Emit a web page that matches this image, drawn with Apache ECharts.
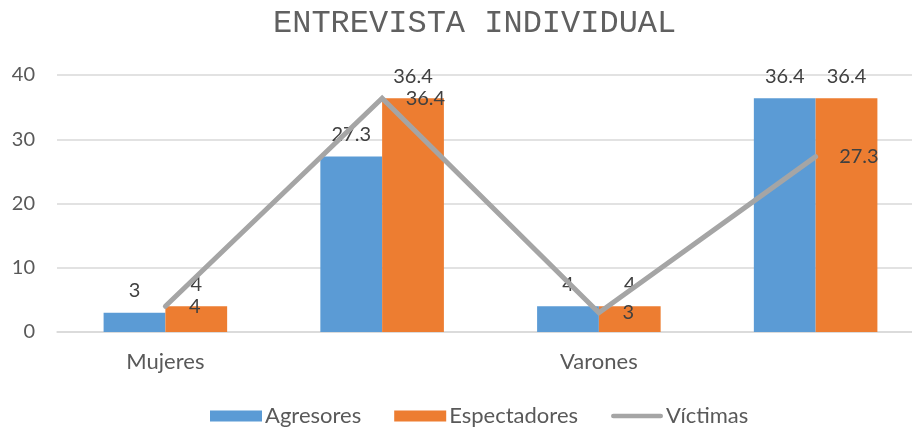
<!DOCTYPE html>
<html><head><meta charset="utf-8">
<script src="https://cdn.jsdelivr.net/npm/echarts@6/dist/echarts.min.js"></script>
<style>html,body{margin:0;padding:0;background:#fff}#c{width:912px;height:430px}</style>
</head><body><div id="c"></div>
<script>
const titleText = 'ENTREVISTA INDIVIDUAL';
const categories = ['Mujeres', '', 'Varones', ''];
const agresores = [3, 27.3, 4, 36.4];
const espectadores = [4, 36.4, 4, 36.4];
const victimas = [4, 36.4, 3, 27.3];
const yTicks = { min: 0, max: 40, interval: 10 };

const FONT = 'Lato';
const chart = echarts.init(document.getElementById('c'), null, { renderer: 'canvas' });
chart.setOption({
  animation: false,
  backgroundColor: '#fff',
  title: {
    text: titleText, left: 268, top: 3,
    textStyle: { fontFamily: 'Liberation Mono', fontSize: 32, fontWeight: 'normal', color: '#606060' }
  },
  legend: {
    left: 205, top: 400, itemWidth: 52, itemHeight: 11, itemGap: 33,
    textStyle: { fontFamily: FONT, fontSize: 22, color: '#595959', padding: [0, 0, 0, -2] },
    data: [
      { name: 'Agresores', icon: 'rect' },
      { name: 'Espectadores', icon: 'rect' },
      { name: 'Víctimas', icon: 'path://M2.5,0 H52.5 A2.5,2.5 0 0 1 52.5,5 H2.5 A2.5,2.5 0 0 1 2.5,0 Z',
        itemStyle: { color: '#a5a5a5', opacity: 1 } }
    ]
  },
  grid: { left: 57, width: 867, top: 75, bottom: 98, containLabel: false, outerBoundsMode: 'none' },
  xAxis: {
    type: 'category', data: categories,
    axisLine: { show: true, lineStyle: { color: '#d9d9d9', width: 1.5 } },
    axisTick: { show: false },
    axisLabel: { fontFamily: FONT, fontSize: 22, color: '#595959', margin: 19, interval: 0 }
  },
  yAxis: {
    type: 'value', min: yTicks.min, max: yTicks.max, interval: yTicks.interval,
    axisLine: { show: false }, axisTick: { show: false },
    splitLine: { lineStyle: { color: '#d9d9d9', width: 1.5 } },
    axisLabel: { fontFamily: FONT, fontSize: 20, color: '#595959', margin: 22 }
  },
  series: [
    {
      name: 'Agresores', type: 'bar', data: agresores, barGap: '0%', barCategoryGap: '43%',
      itemStyle: { color: '#5b9bd5' },
      label: { show: true, position: 'top', distance: 12, fontFamily: FONT, fontSize: 20, color: '#404040' }
    },
    {
      name: 'Espectadores', type: 'bar', data: espectadores, barGap: '0%', barCategoryGap: '43%',
      itemStyle: { color: '#ed7d31' },
      label: { show: true, position: 'top', distance: 12, fontFamily: FONT, fontSize: 20, color: '#404040' }
    },
    {
      name: 'Víctimas', type: 'line', data: victimas,
      symbol: 'circle', symbolSize: 1, showSymbol: true,
      itemStyle: { color: 'rgba(165,165,165,0)' },
      lineStyle: { color: '#a5a5a5', width: 5, cap: 'round', join: 'miter' },
      label: { show: true, position: 'right', distance: 23, fontFamily: FONT, fontSize: 20, color: '#404040' },
      z: 5
    }
  ]
});
</script></body></html>
